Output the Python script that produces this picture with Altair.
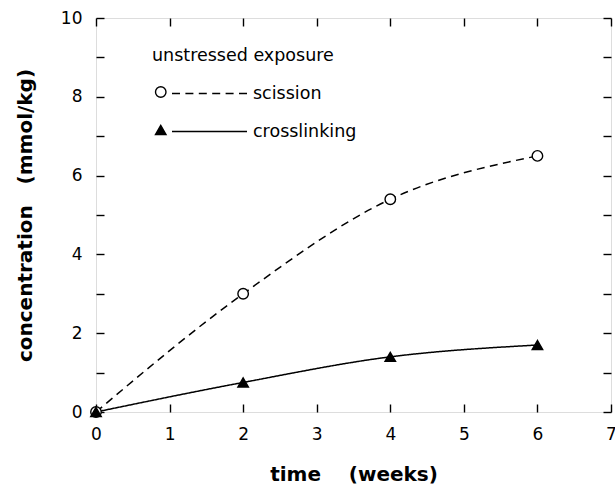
import altair as alt
import pandas as pd

# ---- data ----
weeks = [0, 2, 4, 6]
scission = [0.0, 3.0, 5.4, 6.5]
crosslinking = [0.0, 0.75, 1.4, 1.7]
series_names = ["scission", "crosslinking"]
x_ticks = [0, 1, 2, 3, 4, 5, 6, 7]
y_ticks = [0, 1, 2, 3, 4, 5, 6, 7, 8, 9, 10]
legend_title = "unstressed exposure"
x_title = "time\u00a0\u00a0\u00a0\u00a0(weeks)"
y_title = "concentration\u00a0\u00a0\u00a0(mmol/kg)"

rows = []
for name, vals in zip(series_names, [scission, crosslinking]):
    for w, v in zip(weeks, vals):
        rows.append({"series": name, "week": w, "conc": v})
df = pd.DataFrame(rows)

FONT = "DejaVu Sans"
W, H = 515, 394
TICK_IN = {"expr": "-8"}

xscale = alt.Scale(domain=[0, 7], nice=False)
yscale = alt.Scale(domain=[0, 10], nice=False)

axis_common = dict(domain=False, grid=False, tickSize=TICK_IN, tickWidth=1.4,
                   tickColor="black", labelColor="black", labelFont=FONT,
                   labelFontSize=17, labelFlush=False, labelOverlap=False)

x_bottom = alt.Axis(orient="bottom", values=x_ticks, labelPadding=22,
                    title=x_title, titleFont=FONT, titleFontSize=20,
                    titleFontWeight="bold", titleColor="black",
                    titleY=68, titleBaseline="alphabetic", **axis_common)
x_top = alt.Axis(orient="top", values=x_ticks, labels=False, title=None,
                 **axis_common)
y_left = alt.Axis(orient="left", values=y_ticks, labelPadding=22,
                  labelExpr="datum.value % 2 == 0 ? datum.label : ''",
                  title=y_title, titleFont=FONT, titleFontSize=20,
                  titleFontWeight="bold", titleColor="black", titleX=-71,
                  titleBaseline="middle", titleAngle=270, **axis_common)
y_right = alt.Axis(orient="right", values=y_ticks, labels=False, title=None,
                   **axis_common)

legend_font = dict(labelFont=FONT, labelFontSize=17.5, labelColor="black",
                   titleFont=FONT, titleFontSize=17.5, titleFontWeight="normal",
                   titleColor="black", titleLimit=400, labelLimit=300,
                   padding=0, rowPadding=20, clipHeight=18, orient="none")

base = alt.Chart(df)

# line key: data-derived (custom-sorted) domain, so it stays a separate key
lines = base.mark_line(interpolate="monotone", color="black",
                       strokeWidth=1.5).encode(
    x=alt.X("week:Q", scale=xscale, axis=x_bottom),
    y=alt.Y("conc:Q", scale=yscale, axis=y_left),
    strokeDash=alt.StrokeDash(
        "series:N",
        scale=alt.Scale(range=[[8, 5.4], [1, 0]]),
        sort=series_names,
        legend=alt.Legend(
            title=None, legendX=75, legendY=66.5, labelOffset=5,
            symbolSize=75 * 75, symbolStrokeWidth=1.5,
            symbolStrokeColor="black", **legend_font),
    ),
    detail="series:N",
)

marker_legend = alt.Legend(
    title=legend_title, legendX=56, legendY=29, titlePadding=18.5,
    labelExpr="''", symbolSize=110, symbolStrokeWidth=1.4,
    symbolStrokeColor="black", **legend_font)

points = base.mark_point(filled=True, strokeWidth=1.4,
                         size=110, opacity=1).encode(
    x=alt.X("week:Q", scale=xscale, axis=x_top),
    y=alt.Y("conc:Q", scale=yscale, axis=y_right),
    shape=alt.Shape(
        "series:N",
        scale=alt.Scale(domain=series_names, range=["circle", "triangle-up"]),
        sort=series_names, legend=marker_legend),
    fill=alt.Fill(
        "series:N",
        scale=alt.Scale(domain=series_names, range=["white", "black"]),
        sort=series_names, legend=marker_legend),
    stroke=alt.Stroke(
        "series:N",
        scale=alt.Scale(domain=series_names, range=["black", "black"]),
        sort=series_names, legend=marker_legend),
)

chart = alt.layer(lines, points).resolve_axis(
    x="independent", y="independent"
).properties(
    width=W, height=H,
    autosize=alt.AutoSizeParams(type="none"),
    padding={"left": 96, "top": 18, "right": 4, "bottom": 74},
).configure_view(
    stroke="black", strokeWidth=2
).configure(background="white")

chart.save("out.html", embed_options={"renderer": "svg", "actions": False})
